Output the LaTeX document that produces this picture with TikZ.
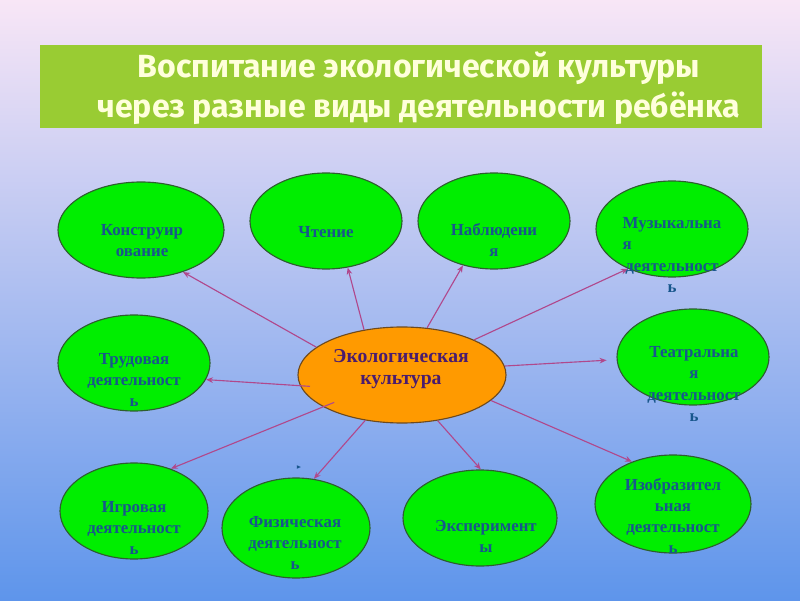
\documentclass[tikz,border=0pt]{standalone}
\usepackage{fontspec}
\setmainfont{Liberation Serif}
\newfontfamily\headfont{Fira Sans}
\usetikzlibrary{shapes.geometric,arrows.meta}

\definecolor{skyT}{HTML}{F8E6F6}
\definecolor{skyM}{HTML}{B8C9F2}
\definecolor{skyB}{HTML}{5E95EB}
\definecolor{headF}{HTML}{99CC33}
\definecolor{headT}{HTML}{FFFFDC}
\definecolor{blobF}{HTML}{00EE00}
\definecolor{blobE}{HTML}{2E5E2E}
\definecolor{blobT}{HTML}{18568C}
\definecolor{coreF}{HTML}{FF9A00}
\definecolor{coreE}{HTML}{6E4A1E}
\definecolor{coreT}{HTML}{4A1C6E}
\definecolor{linkC}{HTML}{B0488C}

\begin{document}
\begin{tikzpicture}[
  blob/.style 2 args={ellipse, draw=blobE, fill=blobF, line width=0.8pt,
                      minimum width=#1, minimum height=#2, inner sep=0pt},
  txt/.style={font=\fontsize{12}{15}\selectfont\bfseries, text=blobT, align=center},
  link/.style={linkC, line width=0.8pt, -{Stealth[length=5pt,width=4pt]}},
]
% background (drawn first = behind)
\shade[top color=skyT, middle color=skyM, bottom color=skyB] (0,0) rectangle (20,15);

% title bar
\node[fill=headF, minimum width=18.05cm, minimum height=2.075cm, inner sep=0pt] (head) at (10.025,12.84) {};
\node[font=\headfont\bfseries\fontsize{22.8}{28.5}\selectfont, text=headT, align=center] (head-t) at (10.475,12.8)
  {Воспитание экологической культуры\\через разные виды деятельности ребёнка};

% --- top row ---
\node[blob={4.15cm}{2.4cm}] (konstr) at (3.525,9.25) {};
\node[txt] (konstr-t) at (3.55,8.975) {Конструир\\ование};
\node[blob={3.8cm}{2.4cm}] (chten) at (8.15,9.475) {};
\node[txt] (chten-t) at (8.15,9.2) {Чтение};
\node[blob={3.8cm}{2.4cm}] (nabl) at (12.35,9.475) {};
\node[txt] (nabl-t) at (12.35,9.0) {Наблюдени\\я};
\node[blob={3.8cm}{2.4cm}] (muz) at (16.8,9.275) {};
\node[txt] (muz-t) at (16.8,8.625) {Музыкальна\\\rlap{я}\phantom{Музыкальна}\\деятельност\\ь};

% --- middle row ---
\node[blob={3.8cm}{2.4cm}] (trud) at (3.35,5.925) {};
\node[txt] (trud-t) at (3.35,5.5) {Трудовая\\деятельност\\ь};
\node[ellipse, draw=coreE, fill=coreF, line width=0.8pt, minimum width=5.2cm, minimum height=2.4cm] (eco) at (10.05,5.625) {};
\node[font=\fontsize{14}{16}\selectfont\bfseries, text=coreT, align=center] (eco-t) at (10.025,5.775) {Экологическая\\культура};
\node[blob={3.8cm}{2.4cm}] (teatr) at (17.325,6.075) {};
\node[txt] (teatr-t) at (17.35,5.4) {Театральна\\я\\деятельност\\ь};

% --- bottom row ---
\node[blob={3.7cm}{2.4cm}] (igr) at (3.35,2.225) {};
\node[txt] (igr-t) at (3.35,1.8) {Игровая\\деятельност\\ь};
\node[blob={3.7cm}{2.5cm}] (fiz) at (7.4,1.8) {};
\node[txt] (fiz-t) at (7.375,1.425) {Физическая\\деятельност\\ь};
\node[blob={3.85cm}{2.4cm}] (eksp) at (12.0,2.05) {};
\node[txt] (eksp-t) at (12.15,1.6) {Эксперимент\\ы};
\node[blob={3.9cm}{2.45cm}] (izo) at (16.825,2.4) {};
\node[txt] (izo-t) at (16.825,2.1) {Изобразител\\ьная\\деятельност\\ь};

% arrows out of the core
\draw[link] (eco.162) -- (konstr.315);
\draw[link] (eco.130) -- (chten.295);
\draw[link] (eco.62) -- (nabl.235);
\draw[link] (eco.26) -- (muz.222);
\draw[link, shorten >=0.25cm] (eco.5) -- (teatr.182);
\draw[link, shorten <=-0.25cm] (eco.186) -- (trud.347);
\draw[link, shorten <=-0.3cm] (eco.202) -- (igr.49);
\draw[link] (eco.231) -- (fiz.70);
\draw[link] (eco.308) -- (eksp.89);
\draw[link] (eco.344) -- (izo.134);

% stray mark above the sport ellipse
\fill[blobT] (7.42,3.37) -- (7.52,3.325) -- (7.42,3.28) -- cycle;
\end{tikzpicture}
\end{document}
